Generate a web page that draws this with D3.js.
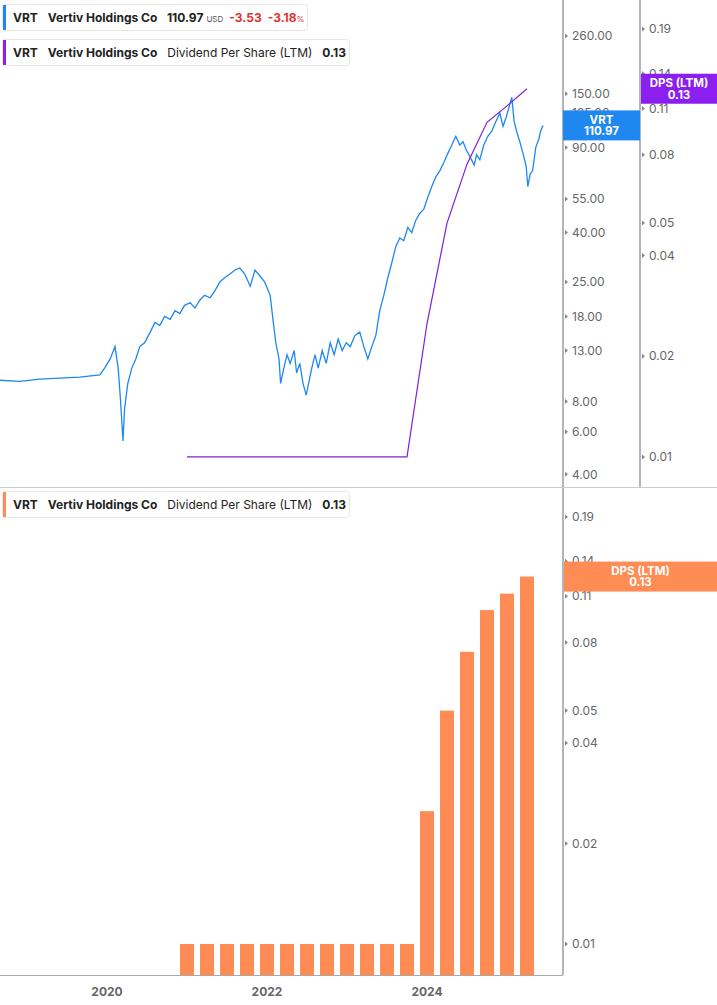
<!DOCTYPE html>
<html><head><meta charset="utf-8">
<script src="https://cdn.jsdelivr.net/npm/d3@7"></script>
<style>
body{margin:0;background:#fff;font-family:Inter,"Noto Sans",sans-serif}
</style></head><body><div id="chart"></div>
<script>
// price, decimal years
const priceDates = [2018.66,2018.91,2019.16,2019.41,2019.66,2019.91,2019.97,2020.04,2020.10,2020.14,2020.17,2020.20,2020.22,2020.26,2020.31,2020.36,2020.41,2020.47,2020.54,2020.60,2020.66,2020.72,2020.79,2020.85,2020.91,2020.97,2021.04,2021.10,2021.16,2021.22,2021.29,2021.35,2021.41,2021.47,2021.54,2021.60,2021.66,2021.72,2021.79,2021.85,2021.91,2021.97,2022.04,2022.07,2022.11,2022.15,2022.17,2022.21,2022.25,2022.29,2022.34,2022.37,2022.41,2022.45,2022.49,2022.52,2022.56,2022.60,2022.64,2022.69,2022.74,2022.79,2022.84,2022.89,2022.94,2022.99,2023.04,2023.10,2023.16,2023.21,2023.26,2023.31,2023.36,2023.41,2023.46,2023.51,2023.56,2023.61,2023.66,2023.71,2023.76,2023.81,2023.86,2023.91,2023.96,2024.01,2024.06,2024.11,2024.16,2024.21,2024.26,2024.31,2024.36,2024.41,2024.45,2024.49,2024.54,2024.59,2024.62,2024.66,2024.71,2024.76,2024.81,2024.86,2024.91,2024.95,2024.99,2025.02,2025.06,2025.09,2025.12,2025.16,2025.20,2025.24,2025.26,2025.29,2025.32,2025.36,2025.40,2025.42,2025.45];
const priceValues = [9.8,9.7,9.9,10.0,10.1,10.3,11,12,13.5,11,8,5.5,7.5,9.5,11,12,13.5,14,15.5,17,16.5,18,17.5,19,18.5,20,20.5,19.5,21,22,21.5,23,25,26,27,28,28.5,27,24,28,26.5,25,22,18,14,12,9.5,11,12.5,11.5,13,10.5,11.5,9.5,8.5,9.5,11,12.5,11,13,11.5,14,12.5,14.5,13,14,13.5,15,15.5,13.5,12,13.5,15,19,22,26,30,35,38,37,42,40,45,48,50,56,62,68,72,78,85,92,100,92,95,88,82,76,84,80,92,100,105,115,125,110,120,130,145,115,105,95,85,75,62,70,72,90,98,105,110.97];
// dividend per share (LTM), quarterly
const dpsDates = [2021.0,2021.25,2021.5,2021.75,2022.0,2022.25,2022.5,2022.75,2023.0,2023.25,2023.5,2023.75,2024.0,2024.25,2024.5,2024.75,2025.0,2025.25];
const dpsValues = [0.01,0.01,0.01,0.01,0.01,0.01,0.01,0.01,0.01,0.01,0.01,0.01,0.025,0.05,0.075,0.10,0.112,0.126];
const priceTicks = [260,150,125,90,55,40,25,18,13,8,6,4];
const dpsTicks = [0.19,0.14,0.11,0.08,0.05,0.04,0.02,0.01];
const yearTicks = [2020,2022,2024];

const W = 717, H = 1005, plotR = 563;
const svg = d3.select('#chart').append('svg').attr('width', W).attr('height', H);

const x = d3.scaleLinear().domain([2018.6625, 2018.6625 + plotR / 80]).range([0, plotR]);
const yPrice = d3.scaleLog().domain([260 * Math.exp(36 / 105), 260 * Math.exp(-451 / 105)]).range([0, 487]);
const yDpsTop = d3.scaleLog().domain([0.19 * Math.exp(29 / 145), 0.01 * Math.exp(-30 / 145)]).range([0, 487]);
const yDpsBot = d3.scaleLog().domain([0.19 * Math.exp(29 / 145), 0.01 * Math.exp(-31 / 145)]).range([488, 975]);

// panel frames
svg.append('line').attr('x1', 0).attr('x2', W).attr('y1', 487.5).attr('y2', 487.5).attr('stroke', '#ccc');
svg.append('line').attr('x1', 0).attr('x2', plotR).attr('y1', 975.5).attr('y2', 975.5).attr('stroke', '#aaa');
[[plotR, 0, 487], [640, 0, 487], [plotR, 488, 975]].forEach(([lx, a, b]) =>
  svg.append('line').attr('x1', lx).attr('x2', lx).attr('y1', a).attr('y2', b).attr('stroke', '#b5b5b5').attr('stroke-width', 2));

function rightAxis(scale, ticks, ax, fmt) {
  const g = svg.append('g');
  ticks.forEach(t => {
    const yy = scale(t);
    g.append('path').attr('d', `M${ax + 2},${yy - 2.5}L${ax + 5},${yy}L${ax + 2},${yy + 2.5}Z`).attr('fill', '#888');
    g.append('text').attr('x', ax + 9).attr('y', yy).attr('dy', '0.35em')
      .attr('font-size', 12).attr('fill', '#666').text(fmt(t));
  });
}
rightAxis(yPrice, priceTicks, plotR, d => d.toFixed(2));
rightAxis(yDpsTop, dpsTicks, 640, d => String(d));
rightAxis(yDpsBot, dpsTicks, plotR, d => String(d));

// price line
const pts = priceDates.map((d, i) => [d, priceValues[i]]);
svg.append('path').datum(pts)
  .attr('d', d3.line().x(d => x(d[0])).y(d => yPrice(d[1])))
  .attr('fill', 'none').attr('stroke', '#1e88f0').attr('stroke-width', 1.3);

// dps line
const dps = dpsDates.map((d, i) => [d, dpsValues[i]]);
svg.append('path').datum(dps)
  .attr('d', d3.line().x(d => x(d[0])).y(d => yDpsTop(d[1])))
  .attr('fill', 'none').attr('stroke', '#7f1fd6').attr('stroke-width', 1.2);

// dps bars
svg.append('g').selectAll('rect').data(dps).enter().append('rect')
  .attr('x', d => x(d[0]) - 7).attr('width', 14)
  .attr('y', d => yDpsBot(d[1])).attr('height', d => 975 - yDpsBot(d[1]))
  .attr('fill', '#ff8c55');

// x axis labels
yearTicks.forEach(t => svg.append('text').attr('x', x(t)).attr('y', 996).attr('text-anchor', 'middle')
  .attr('font-size', 12).attr('font-weight', 700).attr('fill', '#666').text(t));

// value tags
function tag(x0, x1, yc, h, color, lines) {
  svg.append('rect').attr('x', x0).attr('y', yc - h / 2).attr('width', x1 - x0).attr('height', h).attr('fill', color);
  lines.forEach((s, i) => svg.append('text').attr('x', (x0 + x1) / 2).attr('y', yc + (i - (lines.length - 1) / 2) * 11.5)
    .attr('dy', '0.35em').attr('text-anchor', 'middle').attr('font-size', 11.5).attr('font-weight', 700)
    .attr('fill', '#fff').text(s));
}
tag(plotR, 640, yPrice(110.97), 30, '#1e88f0', ['VRT', '110.97']);
tag(641, W, yDpsTop(0.126), 30, '#8a1ff0', ['DPS (LTM)', '0.13']);
tag(plotR + 1, W, yDpsBot(0.126), 30, '#ff8c55', ['DPS (LTM)', '0.13']);

// legends
function legend(y, w, color, parts) {
  const g = svg.append('g');
  g.append('rect').attr('x', 2.5).attr('y', y + 0.5).attr('width', w).attr('height', 26).attr('rx', 3)
    .attr('fill', '#fff').attr('stroke', '#e6e6e6');
  g.append('rect').attr('x', 3).attr('y', y + 1).attr('width', 3).attr('height', 25).attr('fill', color);
  const t = g.append('text').attr('x', 13).attr('y', y + 18).attr('font-size', 12).attr('fill', '#222');
  parts.forEach(p => t.append('tspan').attr('dx', p.dx || 0).attr('font-weight', p.b ? 700 : 400)
    .attr('font-size', p.fs || 12).attr('fill', p.c || '#222').text(p.s));
}
legend(4, 305, '#1e88f0', [{ s: 'VRT', b: 1 }, { s: 'Vertiv Holdings Co', b: 1, dx: 10 }, { s: '110.97', b: 1, dx: 10 },
  { s: 'USD', fs: 8, c: '#555', dx: 3 }, { s: '-3.53', b: 1, c: '#e0342f', dx: 6 }, { s: '-3.18', b: 1, c: '#e0342f', dx: 6 },
  { s: '%', fs: 8, c: '#e0342f' }]);
legend(39, 347, '#8a1ff0', [{ s: 'VRT', b: 1 }, { s: 'Vertiv Holdings Co', b: 1, dx: 10 }, { s: 'Dividend Per Share (LTM)', dx: 10 },
  { s: '0.13', b: 1, dx: 10 }]);
legend(491, 347, '#ff8c55', [{ s: 'VRT', b: 1 }, { s: 'Vertiv Holdings Co', b: 1, dx: 10 }, { s: 'Dividend Per Share (LTM)', dx: 10 },
  { s: '0.13', b: 1, dx: 10 }]);
</script></body></html>
